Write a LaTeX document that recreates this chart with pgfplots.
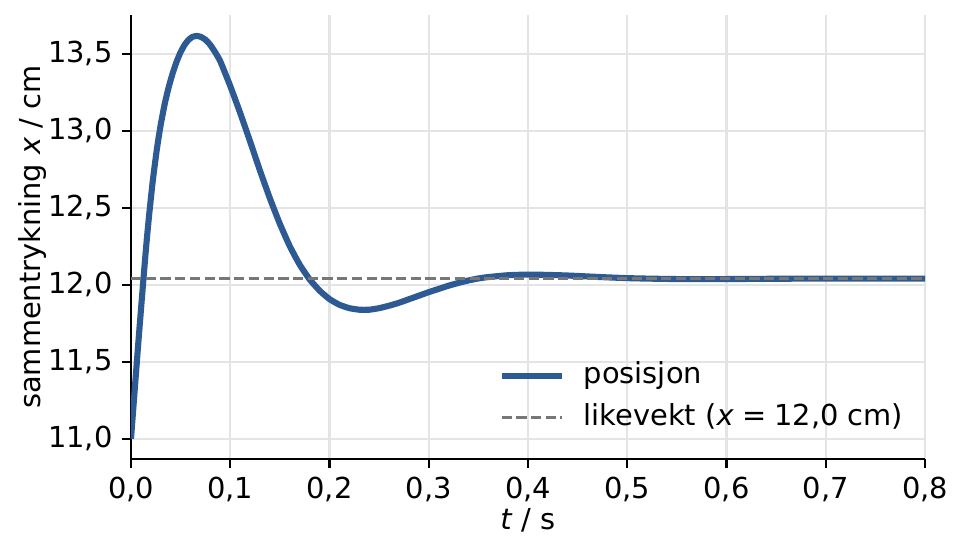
\documentclass[border=0pt]{standalone}
\usepackage{fontspec}
\setmainfont{DejaVu Sans}
\usepackage{pgfplots}
\pgfplotsset{compat=1.18}

\definecolor{posblue}{HTML}{2E5A93}
\definecolor{eqgray}{HTML}{777777}
\definecolor{gridgray}{HTML}{E4E4E4}

\begin{document}
\begin{tikzpicture}[font=\fontsize{10.4}{12}\selectfont]
% 1px = 0.36pt
\useasboundingbox (-47.16pt,-35.28pt) rectangle (299.88pt,165.24pt);
\begin{axis}[
  scale only axis,
  width=285.84pt, height=159.84pt,
  at={(0,0)}, anchor=south west,
  xmin=0, xmax=0.8,
  ymin=10.869, ymax=13.751,
  axis lines=left,
  axis line style={-, line width=0.75pt, black},
  xtick={0,0.1,0.2,0.3,0.4,0.5,0.6,0.7,0.8},
  ytick={11,11.5,12,12.5,13,13.5},
  tick align=outside,
  major tick length=3.1pt,
  tick style={line width=0.75pt, black},
  /pgf/number format/use comma,
  /pgf/number format/fixed,
  /pgf/number format/fixed zerofill,
  /pgf/number format/precision=1,
  /pgf/number format/assume math mode=true,
  grid=major,
  major grid style={gridgray, line width=0.75pt},
  xlabel={\textit{t} / s},
  ylabel={sammentrykning \textit{x} / cm},
  every axis x label/.style={at={(axis description cs:0.5,-0.1374)}, anchor=center},
  every axis y label/.style={at={(axis description cs:-0.1234,0.5)}, rotate=90, anchor=center},
  legend style={draw=none, fill=none, at={(0.4622,0.218)}, anchor=north west,
    inner sep=0pt, row sep=5.4pt, column sep=6.9pt,
    nodes={inner sep=0pt, text height=7.5pt, text depth=2.1pt}},
  legend cell align=left,
  legend image code/.code={\draw[#1] (0pt,0pt) -- (21.6pt,0pt);},
]
\addplot[posblue, line width=2.2pt, smooth, tension=0.3] coordinates {
  (0.000,11.000) (0.002,11.170) (0.004,11.340) (0.006,11.508)
  (0.008,11.674) (0.010,11.835) (0.012,11.995) (0.014,12.151)
  (0.016,12.300) (0.018,12.435) (0.020,12.560) (0.022,12.677)
  (0.024,12.780) (0.026,12.877) (0.028,12.962) (0.030,13.041)
  (0.034,13.175) (0.038,13.283) (0.042,13.373) (0.046,13.449)
  (0.050,13.510) (0.054,13.557) (0.058,13.590) (0.062,13.609)
  (0.066,13.615) (0.070,13.610) (0.075,13.591) (0.080,13.556)
  (0.085,13.507) (0.090,13.450) (0.100,13.290) (0.110,13.115)
  (0.120,12.930) (0.130,12.740) (0.140,12.560) (0.150,12.395)
  (0.160,12.250) (0.170,12.130) (0.180,12.035) (0.190,11.962)
  (0.200,11.907) (0.210,11.870) (0.220,11.848) (0.230,11.838)
  (0.240,11.838) (0.250,11.848) (0.260,11.864) (0.270,11.883)
  (0.280,11.906) (0.290,11.929) (0.300,11.952) (0.310,11.973)
  (0.320,11.994) (0.330,12.012) (0.340,12.028) (0.350,12.041)
  (0.360,12.050) (0.380,12.062) (0.400,12.066) (0.420,12.064)
  (0.440,12.060) (0.460,12.054) (0.480,12.048) (0.500,12.043)
  (0.520,12.040) (0.550,12.037) (0.600,12.037) (0.650,12.039)
  (0.700,12.040) (0.750,12.040) (0.800,12.040)
};
\addlegendentry{posisjon}
\addplot[eqgray, line width=1pt, dash pattern=on 3.7pt off 1.6pt] coordinates {
  (0.0,12.04) (0.8,12.04)
};
\addlegendentry{likevekt (\textit{x}\;=\;12,0 cm)}
\end{axis}
\end{tikzpicture}
\end{document}
